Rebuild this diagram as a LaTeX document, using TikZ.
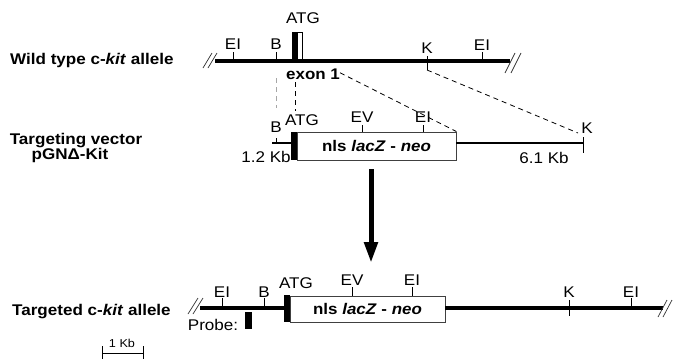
\documentclass[tikz,border=0pt]{standalone}
\usepackage{fontspec}
\setmainfont{Liberation Sans}[FakeStretch=1.1]
\usetikzlibrary{arrows.meta}
\begin{document}
\begin{tikzpicture}[x=1pt,y=-1pt,
  lbl/.style={inner sep=0pt,anchor=base,font=\fontsize{15.5}{16}\selectfont},
  ttl/.style={inner sep=0pt,anchor=base west,font=\bfseries\fontsize{15.5}{17}\selectfont},
  dna/.style={line width=3.2pt},
  vec/.style={line width=2.8pt},
  tk/.style={line width=0.9pt},
  brk/.style={line width=0.7pt,black!80},
  dsh/.style={dash pattern=on 5pt off 4pt,line width=0.8pt},
  cassette/.style={draw=black!75,line width=0.9pt,fill=white,inner sep=0pt,
    font=\bfseries\fontsize{15.4}{17}\selectfont}]
\useasboundingbox (0,0) rectangle (673,359);

% ---------- titles ----------
\node[ttl] (t1) at (10,64) {Wild type c-\textit{kit} allele};
\node[inner sep=0pt,anchor=base,font=\bfseries\fontsize{15.5}{17}\selectfont] (t2a) at (76,144) {Targeting vector};
\node[inner sep=0pt,anchor=base,font=\bfseries\fontsize{15.5}{17}\selectfont] (t2b) at (70,159) {pGNΔ-Kit};
\node[ttl] (t3) at (12,315) {Targeted c-\textit{kit} allele};

% ---------- wild type allele ----------
\coordinate (w1L) at (215,61); \coordinate (w1R) at (510,61);
\draw[dna] (w1L) -- (w1R);
\draw[brk] (203,68) -- (212,53) (208,68) -- (217,53);
\draw[brk] (505,73) -- (515,53) (511,73) -- (521,53);
\draw[tk] (233,52) -- (233,61);  \node[lbl] (wEI1) at (233,49) {EI};
\coordinate (wB) at (276,61);
\draw[tk] (276,52) -- (wB);      \node[lbl] (wBl) at (276,49) {B};
\fill (292,32) rectangle (297,62);
\draw[line width=0.8pt] (297,32) rectangle (302,61);
\node[lbl] (wATG) at (303,23) {ATG};
\node[inner sep=0pt,anchor=base,font=\bfseries\fontsize{15.4}{17}\selectfont] (exon) at (313,79) {exon 1};
\coordinate (wK) at (427,70);
\draw[tk] (427,56) -- (wK);      \node[lbl] (wKl) at (427,53) {K};
\draw[tk] (482,52) -- (482,61);  \node[lbl] (wEI2) at (482,50) {EI};

% ---------- targeting vector ----------
\coordinate (vB) at (276,138);
\draw[vec] (272,143) -- (293,143);
\draw[tk] (vB) -- (276,143);     \node[lbl] (vBl) at (276,132) {B};
\fill (291,132) rectangle (297,160);
\node[lbl] (vATG) at (302,125) {ATG};
\node[cassette,minimum width=159pt,minimum height=28pt] (vbox) at (376.5,146) {nls \textit{lacZ} - \textit{neo}};
\draw[tk] (362,125) -- (362,132); \node[lbl] (vEV) at (362,122) {EV};
\draw[tk] (423,125) -- (423,132); \node[lbl] (vEI) at (423,122) {EI};
\coordinate (vK) at (583,143);
\draw[vec] (vbox.east |- vK) -- (vK);
\draw[tk] (583,137) -- (583,153);
\node[lbl] (vKl) at (587,133) {K};
\node[lbl] (v12) at (266,162) {1.2 Kb};
\node[lbl] (v61) at (544,163) {6.1 Kb};

% ---------- dashed correspondences ----------
\draw[dsh,gray!70] (276,78) -- (276,108);
\draw[dsh] (295,82) -- (295,111);
\draw[dsh] (exon.east) ++(0,-1) -- (vbox.north east);
\draw[dsh] (wK) -- (578,133);

% ---------- arrow ----------
\coordinate (aTop) at (371,169); \coordinate (aBot) at (371,263);
\draw[line width=5pt,-{Triangle[length=21pt,width=13pt]}] (aTop) -- (aBot);

% ---------- targeted allele ----------
\draw[dna] (200,308) -- (288,308);
\draw[brk] (188,314) -- (198,298) (193,314) -- (203,298);
\draw[tk] (222,298) -- (222,308); \node[lbl] (tEI1) at (222,297) {EI};
\draw[tk] (264,298) -- (264,308); \node[lbl] (tB) at (264,297) {B};
\fill (284,295) rectangle (290,322);
\node[lbl] (tATG) at (296,288) {ATG};
\node[cassette,minimum width=155pt,minimum height=26pt] (tbox) at (367.5,309) {nls \textit{lacZ} - \textit{neo}};
\draw[tk] (352,287) -- (352,296); \node[lbl] (tEV) at (352,285) {EV};
\draw[tk] (412,287) -- (412,296); \node[lbl] (tEI2) at (412,285) {EI};
\coordinate (tR) at (663,308);
\draw[dna] (tbox.east |- tR) -- (tR);
\draw[brk] (658,317) -- (667,300) (663,317) -- (672,300);
\draw[tk] (569,300) -- (569,316); \node[lbl] (tK) at (569,297) {K};
\draw[tk] (631,298) -- (631,308); \node[lbl] (tEI3) at (631,297) {EI};
\node[lbl] (probe) at (213,330) {Probe:};
\fill (245,312) rectangle (252,329);

% ---------- scale bar ----------
\coordinate (sL) at (102,353); \coordinate (sR) at (143,353);
\draw[line width=0.8pt] (sL) -- (sR);
\draw[line width=0.8pt] (102,346) -- (102,359) (143,346) -- (143,359);
\node[inner sep=0pt,anchor=base,font=\fontsize{11.5}{12}\selectfont] (skb) at (122,347) {1 Kb};
\end{tikzpicture}
\end{document}
